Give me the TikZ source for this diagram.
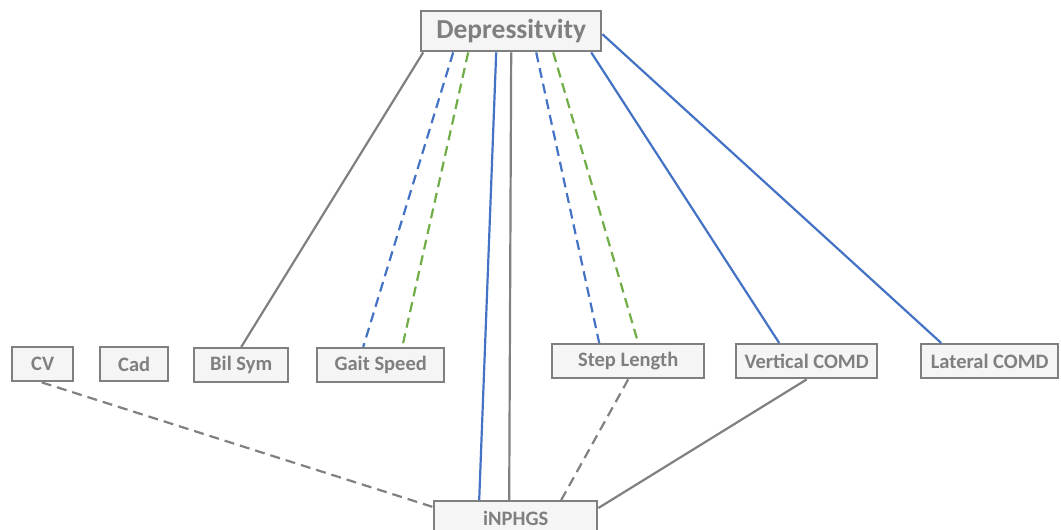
\documentclass[tikz,border=0pt]{standalone}
\usepackage{fontspec}
\setmainfont{Carlito}
\usetikzlibrary{calc}
\definecolor{bx}{HTML}{7F7F7F}
\definecolor{bf}{HTML}{F5F5F5}
\definecolor{tx}{HTML}{7F7F7F}
\definecolor{lb}{HTML}{4472C4}
\definecolor{lg}{HTML}{70AD47}
\definecolor{lgr}{HTML}{808080}
\tikzset{
  box/.style={draw=bx, fill=bf, line width=2.4pt, text=tx, font=\bfseries\fontsize{20.5}{24}\selectfont, inner sep=0pt, anchor=north west},
  ln/.style={line width=2.2pt},
  dsh/.style={ln, dash pattern=on 10pt off 6pt},
}
\begin{document}
\begin{tikzpicture}[x=1pt,y=-1pt]
\useasboundingbox (0,0) rectangle (1061,530);
\node[box, minimum width=180pt, minimum height=40pt, font=\bfseries\fontsize{27.5}{30}\selectfont] (dep) at (420,10) {Depressitvity};
\node[box, minimum width=61pt, minimum height=34pt] (cv) at (11,346) {CV};
\node[box, minimum width=68pt, minimum height=34pt] (cad) at (99,346) {Cad};
\node[box, minimum width=94pt, minimum height=34pt] (bil) at (193,347) {Bil Sym};
\node[box, minimum width=127pt, minimum height=34pt] (gait) at (316,347) {Gait Speed};
\node[box, minimum width=152pt, minimum height=34pt] (step) at (551,343) {Step Length};
\node[box, minimum width=141pt, minimum height=34pt] (vert) at (735,343) {Vertical COMD};
\node[box, minimum width=137pt, minimum height=34pt] (lat) at (920,343) {Lateral COMD};
\begin{scope}
\clip (0,0) rectangle (1061,530);
\node[box, minimum width=163pt, minimum height=36pt, text depth=0pt] (inp) at (433,500) {\raisebox{2pt}{iNPHGS}};
\end{scope}
% from Depressitvity
\draw[ln, lgr] ([xshift=-88pt]dep.south) -- (bil.north);
\draw[dsh, lb] ([xshift=-58pt]dep.south) -- ([xshift=-17.5pt]gait.north);
\draw[dsh, lg] ([xshift=-43pt]dep.south) -- ([xshift=21.5pt]gait.north);
\draw[ln, lb] ([xshift=-15pt]dep.south) -- ([xshift=-36.5pt]inp.north);
\draw[ln, lgr] ([xshift=0pt]dep.south) -- ([xshift=-6.5pt]inp.north);
\draw[dsh, lb] ([xshift=25pt]dep.south) -- ([xshift=-29pt]step.north);
\draw[dsh, lg] ([xshift=42pt]dep.south) -- ([xshift=10pt]step.north);
\draw[ln, lb] ([xshift=80pt]dep.south) -- ([xshift=-27.5pt]vert.north);
\draw[ln, lb] ([yshift=-3pt]dep.east) -- ([xshift=-48.5pt]lat.north);
% to iNPHGS
\draw[dsh, lgr] ([xshift=-1pt]cv.south) -- ([yshift=-7pt]inp.north west);
\draw[dsh, lgr] (step.south) -- ([xshift=45.5pt]inp.north);
\draw[ln, lgr] (vert.south) -- ([yshift=-8pt]inp.north east);
\end{tikzpicture}
\end{document}
